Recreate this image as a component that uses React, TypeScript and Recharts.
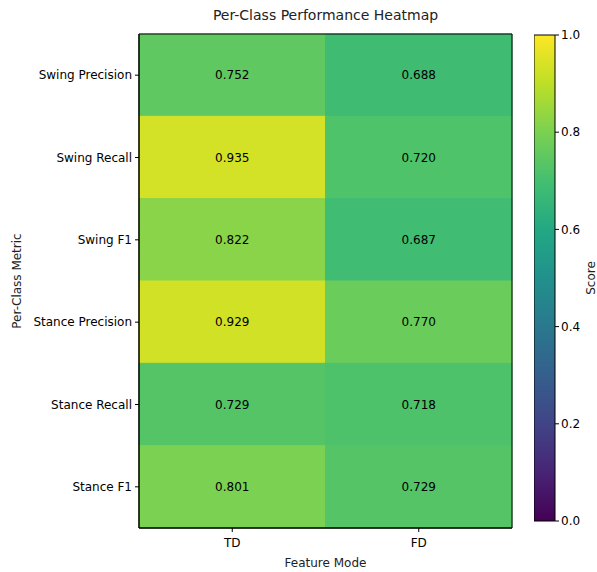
import {
  ReferenceArea,
  Scatter,
  ScatterChart,
  XAxis,
  YAxis,
} from "recharts";

const metrics = [
  "Swing Precision",
  "Swing Recall",
  "Swing F1",
  "Stance Precision",
  "Stance Recall",
  "Stance F1",
];
const modes = ["TD", "FD"];
const tdScores = [0.752, 0.935, 0.822, 0.929, 0.729, 0.801];
const fdScores = [0.688, 0.72, 0.687, 0.77, 0.718, 0.729];
const colorbarTicks = [0, 0.2, 0.4, 0.6, 0.8, 1.0];

// matplotlib viridis, sampled every 0.1
const viridis = [
  "#440154", "#482475", "#414487", "#355f8d", "#2a788e", "#21918c",
  "#22a884", "#44bf70", "#7ad151", "#bddf26", "#fde725",
];

const hex = (c: string) => [1, 3, 5].map((i) => parseInt(c.slice(i, i + 2), 16));

const viridisColor = (v: number) => {
  const t = Math.max(0, Math.min(1, v)) * 10;
  const i = Math.min(9, Math.floor(t));
  const f = t - i;
  const a = hex(viridis[i]);
  const b = hex(viridis[i + 1]);
  const rgb = a.map((x, k) => Math.round(x + (b[k] - x) * f));
  return `rgb(${rgb.join(",")})`;
};

const cells = metrics.flatMap((m, i) =>
  [tdScores[i], fdScores[i]].map((v, j) => ({ x: j + 0.5, y: i + 0.5, v }))
);
const cbPoints = colorbarTicks.map((v) => ({ x: 0.5, y: v }));

const font = "'DejaVu Sans', sans-serif";
const tickStyle = { fill: "#000", fontSize: 12, fontFamily: font };

const CellText = (props: any) => (
  <text
    x={props.cx}
    y={props.cy}
    textAnchor="middle"
    dominantBaseline="central"
    fontSize={12}
    fontFamily={font}
    fill="#000"
  >
    {props.payload.v.toFixed(3)}
  </text>
);

const Nothing = () => <g />;

export default function App() {
  return (
    <div
      style={{
        position: "absolute",
        left: 0,
        top: 0,
        width: 597,
        height: 572,
        background: "#fff",
        fontFamily: font,
      }}
    >
      <div
        style={{
          position: "absolute",
          left: 139,
          width: 373,
          top: 7,
          textAlign: "center",
          fontSize: 14,
          color: "#222",
        }}
      >
        Per-Class Performance Heatmap
      </div>
      <div style={{ position: "absolute", left: 0, top: 0 }}>
        <ScatterChart
          width={597}
          height={572}
          margin={{ top: 34, right: 85, bottom: 0, left: 0 }}
        >
          <XAxis
            dataKey="x"
            type="number"
            domain={[0, 2]}
            ticks={[0.5, 1.5]}
            tickFormatter={(v: number) => modes[Math.floor(v)]}
            height={44}
            tick={tickStyle}
            tickSize={4}
            tickMargin={6}
            stroke="#000"
            label={{
              value: "Feature Mode",
              position: "insideBottom",
              offset: 5,
              style: { ...tickStyle, fill: "#222" },
            }}
          />
          <YAxis
            dataKey="y"
            type="number"
            domain={[0, 6]}
            reversed
            ticks={[0.5, 1.5, 2.5, 3.5, 4.5, 5.5]}
            tickFormatter={(v: number) => metrics[Math.floor(v)]}
            width={139}
            tick={tickStyle}
            tickSize={4}
            tickMargin={3}
            stroke="#000"
            label={{
              value: "Per-Class Metric",
              angle: -90,
              position: "insideLeft",
              offset: 17,
              style: { ...tickStyle, fill: "#222", textAnchor: "middle" },
            }}
          />
          {cells.map((c, k) => (
            <ReferenceArea
              key={k}
              x1={c.x - 0.5}
              x2={c.x + 0.5}
              y1={c.y - 0.5}
              y2={c.y + 0.5}
              fill={viridisColor(c.v)}
              fillOpacity={1}
              stroke={viridisColor(c.v)}
              strokeWidth={1}
            />
          ))}
          <ReferenceArea
            x1={0}
            x2={2}
            y1={0}
            y2={6}
            fill="none"
            stroke="#000"
            strokeWidth={1}
          />
          <Scatter data={cells} shape={CellText} isAnimationActive={false} />
        </ScatterChart>
      </div>
      <div style={{ position: "absolute", left: 534, top: 0 }}>
        <ScatterChart
          width={63}
          height={572}
          margin={{ top: 35, right: 0, bottom: 51, left: 0 }}
        >
          <defs>
            <linearGradient id="viridisGrad" x1="0" y1="1" x2="0" y2="0">
              {viridis.map((c, i) => (
                <stop key={i} offset={`${i * 10}%`} stopColor={c} />
              ))}
            </linearGradient>
          </defs>
          <XAxis dataKey="x" type="number" domain={[0, 1]} hide />
          <YAxis
            dataKey="y"
            type="number"
            domain={[0, 1]}
            orientation="right"
            ticks={colorbarTicks}
            tickFormatter={(v: number) => v.toFixed(1)}
            width={42}
            tick={tickStyle}
            tickSize={4}
            tickMargin={2}
            axisLine={false}
            stroke="#000"
            label={{
              value: "Score",
              angle: -90,
              position: "insideRight",
              offset: 6,
              style: { ...tickStyle, fill: "#222", textAnchor: "middle" },
            }}
          />
          <ReferenceArea
            x1={0}
            x2={1}
            y1={0}
            y2={1}
            fill="url(#viridisGrad)"
            fillOpacity={1}
            stroke="#000"
            strokeWidth={1}
          />
          <Scatter data={cbPoints} shape={Nothing} isAnimationActive={false} />
        </ScatterChart>
      </div>
    </div>
  );
}
